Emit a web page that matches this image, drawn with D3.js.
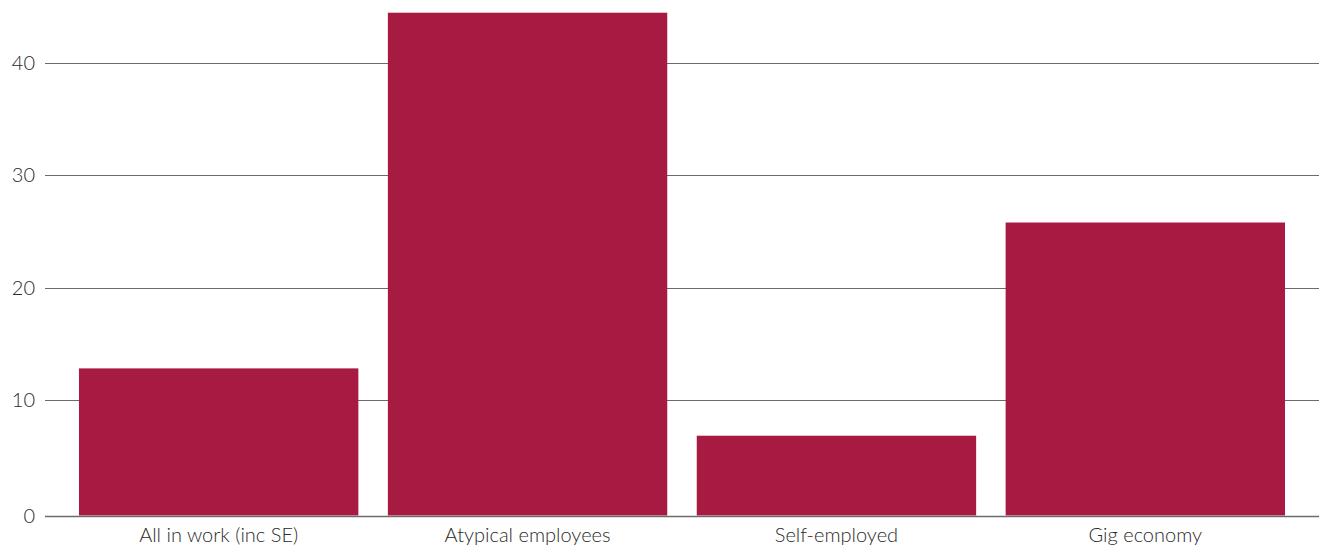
<!DOCTYPE html>
<html>
<head>
<meta charset="utf-8">
<script src="https://cdn.jsdelivr.net/npm/d3@7"></script>
<style>
  html, body { margin: 0; padding: 0; background: #fff; }
  svg { display: block; }
  text { font-family: "Lato", "Open Sans", sans-serif; font-weight: 300; fill: #2a2a2a; }
</style>
</head>
<body>
<svg id="chart" width="1319" height="547"></svg>
<script>
const categories = ["All in work (inc SE)", "Atypical employees", "Self-employed", "Gig economy"];
const values = [12.8, 44.5, 6.8, 25.8];
const yTicks = [0, 10, 20, 30, 40];

const W = 1319, H = 547;
const plot = { left: 45, right: 1319, top: 0, zero: 512, forty: 63.2 };
const baselineOffset = 3.5;

const svg = d3.select("#chart");

const x = d3.scaleBand()
  .domain(categories)
  .range([plot.left, plot.right])
  .paddingInner(0.0955)
  .paddingOuter(0.11);

const y = d3.scaleLinear()
  .domain([0, 40])
  .range([plot.zero, plot.forty]);

// gridlines
svg.append("g")
  .selectAll("line")
  .data(yTicks.filter(d => d > 0))
  .join("line")
  .attr("x1", plot.left)
  .attr("x2", plot.right)
  .attr("y1", d => Math.round(y(d)) + 0.5)
  .attr("y2", d => Math.round(y(d)) + 0.5)
  .attr("stroke", "#6b6b6b")
  .attr("stroke-width", 1);

// y tick labels
svg.append("g")
  .selectAll("text")
  .data(yTicks)
  .join("text")
  .attr("x", 35)
  .attr("y", d => d === 0 ? y(0) + baselineOffset : y(d))
  .attr("dy", "0.35em")
  .attr("text-anchor", "end")
  .style("font-size", "20px")
  .text(d => d);

// bars
const baseY = y(0) + baselineOffset;
svg.append("g")
  .selectAll("rect")
  .data(values)
  .join("rect")
  .attr("x", (d, i) => x(categories[i]))
  .attr("width", x.bandwidth())
  .attr("y", d => y(d))
  .attr("height", d => baseY - y(d))
  .attr("fill", "#a71b42");

// x axis line
svg.append("line")
  .attr("x1", plot.left)
  .attr("x2", plot.right)
  .attr("y1", Math.round(baseY) + 0.5)
  .attr("y2", Math.round(baseY) + 0.5)
  .attr("stroke", "#6b6b6b")
  .attr("stroke-width", 1.5);

// x labels
svg.append("g")
  .selectAll("text")
  .data(categories)
  .join("text")
  .attr("x", d => x(d) + x.bandwidth() / 2)
  .attr("y", 542)
  .attr("text-anchor", "middle")
  .style("font-size", "20px")
  .text(d => d);
</script>
</body>
</html>
